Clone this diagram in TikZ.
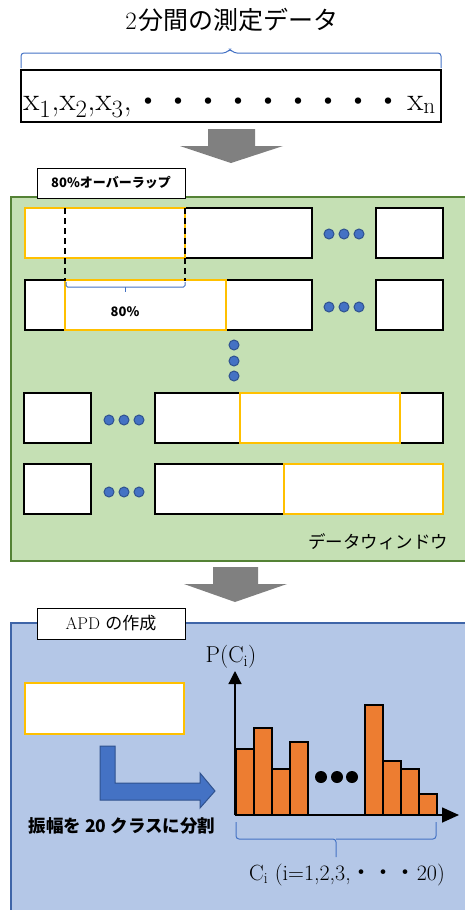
\documentclass[tikz,border=0pt]{standalone}
\usepackage{fontspec}
\newfontfamily\jp{Noto Sans CJK JP}
\usetikzlibrary{arrows.meta}

\definecolor{winyellow}{HTML}{FFC000}
\definecolor{greenfill}{HTML}{C5E0B4}
\definecolor{greenline}{HTML}{548235}
\definecolor{bluefill}{HTML}{B4C7E7}
\definecolor{blueline}{HTML}{3F65A8}
\definecolor{dotblue}{HTML}{4472C4}
\definecolor{dotline}{HTML}{2F528F}
\definecolor{barorange}{HTML}{ED7D31}
\definecolor{arrowgray}{HTML}{808080}

\begin{document}
\begin{tikzpicture}[x=1pt, y=-1pt, thick,
		blackbox/.style={draw=black, line width=2.2pt, fill=white},
		winbox/.style={draw=winyellow, line width=2pt, fill=white},
		labelbox/.style={draw=black, line width=0.8pt, fill=white, minimum width=148pt, minimum height=30pt, inner sep=0pt},
		bluedot/.style={fill=dotblue, draw=dotline, line width=1pt},
		bracket/.style={draw=dotblue, line width=1pt, rounded corners=3pt},
		bar/.style={draw=black, line width=2pt, fill=barorange},
		overlap/.style={draw=black, line width=1.4pt, dash pattern=on 6pt off 4pt}]
			\useasboundingbox (0,0) rectangle (465,910);

			% Measured data strip
			\node[font=\fontsize{25}{30}\selectfont] (title) at (232,20) {2\hspace{2pt}{\jp 分間の測定データ}};
			\draw[bracket] (21,68) -- (21,53) -- (226,53) -- (230,49) -- (234,53) -- (441,53) -- (441,68);
			\draw[draw=black, line width=2.5pt, fill=white] (21,70) rectangle (441,122);
			\node[anchor=base west, inner sep=0pt, font=\fontsize{33}{33}\selectfont] (xfirst) at (23,110) {x$_1$,x$_2$,x$_3$,};
			\node[anchor=base, inner sep=0pt, font=\jp\fontsize{30}{30}\selectfont] (xdots) at (268,112) {・・・・・・・・・};
			\node[anchor=base east, inner sep=0pt, font=\fontsize{33}{33}\selectfont] (xlast) at (436,110) {x$_\mathrm{n}$};

			% Draw the first block arrow
			\fill[arrowgray] (208,129) -- (255,129) -- (255,146) -- (283,146) -- (231,163) -- (180,146) -- (208,146) -- cycle;

			% Data windows
			\draw[draw=greenline, line width=2.5pt, fill=greenfill] (11,197) rectangle (468,561);
			\node[labelbox, font=\jp\bfseries\fontsize{13}{13}\selectfont] (overlaplabel) at (111,183) {80\%オーバーラップ};

			% Row 1
			\draw[blackbox] (185,208) rectangle (312,258);
			\draw[winbox] (25,208) rectangle (185,258);
			\draw[blackbox] (376,208) rectangle (443,258);
			\foreach \x in {329,344,359}
				\draw[bluedot] (\x,234) circle (5pt);

			% Row 2
			\draw[blackbox] (25,280) rectangle (312,330);
			\draw[winbox] (65,280) rectangle (226,330);
			\draw[blackbox] (376,280) rectangle (443,330);
			\foreach \x in {329,344,359}
				\draw[bluedot] (\x,307) circle (5pt);

			% Overlap markers
			\draw[overlap] (65,208) -- (65,281);
			\draw[overlap] (185,208) -- (185,281);
			\draw[bracket, rounded corners=1.5pt] (66,282) -- (66,287) -- (185,287) -- (185,282);
			\draw[bracket] (125,287) -- (125,292);
			\node[font=\jp\bfseries\fontsize{13}{13}\selectfont] (overlappct) at (125,312) {80\%};

			\foreach \y in {345,361,376}
				\draw[bluedot] (234,\y) circle (5pt);

			% Row 3
			\draw[blackbox] (24,393) rectangle (91,443);
			\foreach \x in {109,124,139}
				\draw[bluedot] (\x,420) circle (5pt);
			\draw[blackbox] (155,393) rectangle (443,443);
			\draw[winbox] (240,393) rectangle (400,443);

			% Row 4
			\draw[blackbox] (24,464) rectangle (91,514);
			\foreach \x in {109,124,139}
				\draw[bluedot] (\x,492) circle (5pt);
			\draw[blackbox] (155,464) rectangle (443,514);
			\draw[winbox] (284,464) rectangle (443,514);

			\node[font=\jp\fontsize{17.5}{17.5}\selectfont] (windowlabel) at (378,542) {データウィンドウ};

			% Draw the second block arrow
			\fill[arrowgray] (213,567) -- (258,567) -- (258,584) -- (287,584) -- (235,602) -- (184,584) -- (213,584) -- cycle;

			% APD panel
			\draw[draw=blueline, line width=2.5pt, fill=bluefill] (11,623) rectangle (468,920);
			\node[labelbox, minimum height=31pt, font=\fontsize{17}{17}\selectfont] (apdlabel) at (111,623.5) {APD {\jp の作成}};
			\draw[winbox] (25,683) rectangle (184,734);

			\draw[draw=dotline, line width=1pt, fill=dotblue] (100,746) -- (115,746) -- (115,783) -- (200,783) -- (200,773) -- (215,791) -- (200,808) -- (200,800) -- (100,800) -- cycle;
			\node[font=\jp\bfseries\fontsize{17.5}{17.5}\selectfont] (splitlabel) at (122,826) {振幅を 20 クラスに分割};

			% Histogram
			\coordinate (origin) at (235,815);
			\coordinate (ytop) at (235,671);
			\coordinate (xright) at (459,815);
			\foreach \x/\h in {236/749, 254/728, 272/769, 290/742, 365/705, 383/761, 401/769, 419/794}
				\draw[bar] (\x,815) rectangle (\x+18,\h);
			\draw[line width=1.2pt, -{Triangle[width=13pt, length=13pt]}] (origin) -- (ytop);
			\draw[line width=1.6pt, -{Triangle[width=15pt, length=17pt]}] (origin) -- (xright);
			\foreach \x in {321,337,352}
				\fill[black] (\x,777) circle (6pt);
			\node[font=\fontsize{23}{23}\selectfont] (pclabel) at (231,657) {P(C$_\mathrm{i}$)};

			\draw[bracket] (236,822) -- (236,839) -- (336,839) -- (336,857);
			\draw[bracket] (336,839) -- (436,839) -- (436,822);
			\node[font=\fontsize{22}{22}\selectfont] (classlabel) at (347,875) {C$_\mathrm{i}$ (i=1,2,3,{\jp ・・・}20)};

		\end{tikzpicture}
\end{document}
